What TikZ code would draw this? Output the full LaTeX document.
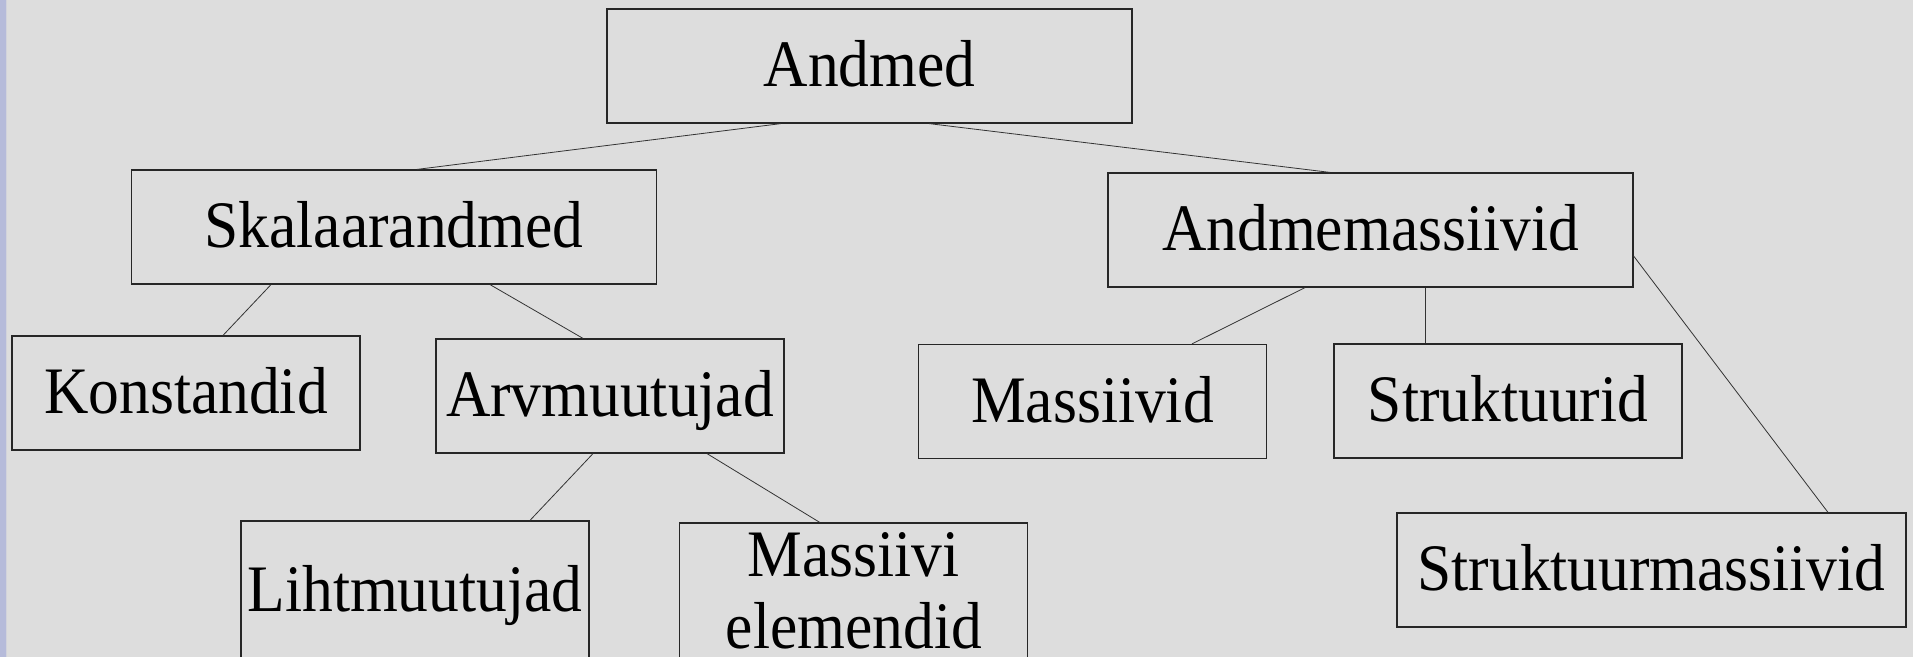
\documentclass[tikz,border=0pt]{standalone}
\usepackage{fontspec}
\setmainfont{Liberation Serif}[FakeStretch=0.926]
\usepackage{xcolor}
\usetikzlibrary{positioning, calc}
\definecolor{slidebg}{HTML}{DDDDDD}
\definecolor{slidebar}{HTML}{B6BBDA}
\definecolor{slideedge}{HTML}{D2D3DC}

\begin{document}
\begin{tikzpicture}[x=0.5pt, y=-0.5pt,
		font=\fontsize{33.2}{36}\selectfont,
		box/.style={draw=black!85, line width=0.6pt, rectangle, inner sep=0pt, minimum height=57pt},
		wide/.style={box, minimum width=262.5pt},
		narrow/.style={box, minimum width=174pt},
		oneline/.style={text height=23pt, text depth=2pt},
		link/.style={draw=black!80, line width=0.4pt}]
			% slide background
			\clip (0,0) rectangle (1913,657);
			\fill[slidebg] (0,0) rectangle (1913,657);
			\fill[slidebar] (0,0) rectangle (6,657);
			\fill[slideedge] (6,0) rectangle (7,657);
			
			% top level
			\node[wide, oneline] (andmed) at (869.5,66) {Andmed};
			
			% second level
			\node[wide, oneline] (skalaar) at (394,227) {Skalaarandmed};
			\node[wide, oneline] (andmemass) at (1370.5,230) {Andmemassiivid};
			
			% third level
			\node[narrow, oneline] (konst) at (186,393) {Konstandid};
			\node[narrow, oneline] (arvm) at (610,396) {Arvmuutujad};
			\node[narrow, oneline] (massiiv) at (1092.5,401.5) {Massiivid};
			\node[narrow, oneline] (strukt) at (1508,401) {Struktuurid};
			\node[box, oneline, minimum width=254.5pt] (struktmass) at (1651.5,570) {Struktuurmassiivid};
			
			% bottom row (runs off the slide)
			\node[narrow, oneline, minimum height=69pt] (liht) at (415,590) {Lihtmuutujad};
			\node[narrow, align=center, minimum height=68pt] (maselem) at (853.75,591) {Massiivi\\elemendid};
			
			% links
			\draw[link] ($(andmed.south)+(-88.5,0)$) -- ($(skalaar.north)+(23,0)$);
			\draw[link] ($(andmed.south)+(59.5,0)$) -- ($(andmemass.north)+(-40.5,0)$);
			\draw[link] ($(skalaar.south)+(-123,0)$) -- ($(konst.north)+(37,0)$);
			\draw[link] ($(skalaar.south)+(96,0)$) -- ($(arvm.north)+(-27,0)$);
			\draw[link] ($(arvm.south)+(-17,0)$) -- ($(liht.north)+(115,0)$);
			\draw[link] ($(arvm.south)+(97,0)$) -- ($(maselem.north)+(-34,0)$);
			\draw[link] ($(andmemass.south)+(-65.5,0)$) -- ($(massiiv.north)+(99.5,0)$);
			\draw[link] ($(andmemass.south)+(54.5,0)$) -- ($(strukt.north)+(-83,0)$);
			\draw[link] ($(andmemass.east)+(0,26)$) -- ($(struktmass.north)+(176.5,0)$);
		\end{tikzpicture}
\end{document}
